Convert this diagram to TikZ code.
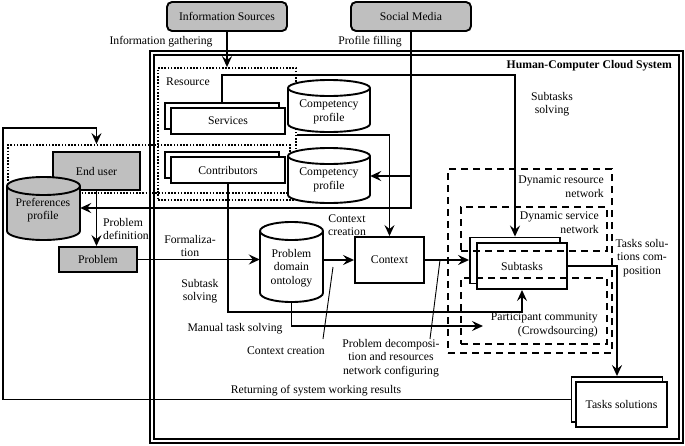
\documentclass[tikz,border=0pt]{standalone}
\usepackage{fontspec}
\setmainfont{Liberation Serif}
\usetikzlibrary{arrows.meta,shadows}
\newcommand\drawcyl[7]{%
  \pgfmathsetmacro\cylrx{(#4-#2)/2}%
  \pgfmathsetmacro\cylcx{(#2+#4)/2}%
  \pgfmathsetmacro\cylcy{(#3+#5)/2}%
  \pgfmathsetmacro\cylw{#4-#2}%
  \pgfmathsetmacro\cylh{#5-#3}%
  \filldraw[cylline, fill=#7] (#2,#3+#6) -- (#2,#5-#6)
     arc[start angle=180,end angle=360,x radius=\cylrx pt,y radius=#6pt]
     -- (#4,#3+#6)
     arc[start angle=0,end angle=180,x radius=\cylrx pt,y radius=#6pt] -- cycle;
  \draw[cylline] (#2,#3+#6) arc[start angle=180,end angle=360,x radius=\cylrx pt,y radius=#6pt];
  \node[minimum width=\cylw pt, minimum height=\cylh pt] (#1) at (\cylcx,\cylcy) {};
}
\begin{document}
\begin{tikzpicture}[x=1pt,y=-1pt,
  every node/.style={font=\fontsize{11.7}{13.5}\selectfont, inner sep=0pt},
  box/.style={draw, line width=1.9pt, fill=white},
  gbox/.style={box, fill=black!25},
  sbox/.style={box, copy shadow={shadow xshift=-6pt, shadow yshift=5pt}},
  cylline/.style={line width=1.9pt},
  conn/.style={line width=1.7pt},
  arr/.style={conn, -{Stealth[length=11pt,width=10pt,inset=4pt]}},
  dotbox/.style={draw, line width=1.8pt, dash pattern=on 1.6pt off 1.6pt},
  dashbox/.style={draw, line width=1.9pt, dash pattern=on 7pt off 5pt},
  thinline/.style={line width=0.9pt},
  lbl/.style={align=center}]
\useasboundingbox (0,0) rectangle (685,445);

% system frame
\draw[line width=1.4pt] (150,51) rectangle (683,443);
\draw[line width=1.4pt] (154,55) rectangle (679,439);
\node[font=\fontsize{11.7}{13.5}\selectfont\bfseries, anchor=east] (hccs) at (672,66) {Human-Computer Cloud System};

% sources
\node[gbox, rounded corners=5pt, minimum width=120pt, minimum height=29pt] (is) at (227,16.5) {Information Sources};
\node[gbox, rounded corners=5pt, minimum width=120pt, minimum height=29pt] (sm) at (411,16.5) {Social Media};
\node (ig) at (161,42) {Information gathering};
\node (pf) at (370,42) {Profile filling};

% dotted groups
\node[dotbox, minimum width=138pt, minimum height=132pt] (res) at (227,134) {};
\node[dotbox, minimum width=282pt, minimum height=48pt] (eub) at (149,169) {};
\node[anchor=west] (reslbl) at (166,82) {Resource};

% resources
\node[sbox, minimum width=114pt, minimum height=26pt] (serv) at (228,121) {Services};
\node[sbox, minimum width=114pt, minimum height=26pt] (contr) at (228,170) {Contributors};
\drawcyl{cp1}{288}{80}{370}{132}{8}{white}
\node[lbl] (cp1t) at (329,112) {Competency\\profile};
\drawcyl{cp2}{288}{148}{370}{203}{8}{white}
\node[lbl] (cp2t) at (329,180) {Competency\\profile};

% end user side
\node[gbox, minimum width=87pt, minimum height=38pt] (eu) at (96.5,171) {End user};
\drawcyl{pref}{7}{177}{80}{240}{9}{black!25}
\node[lbl] (preft) at (43,210) {Preferences\\profile};
\node[gbox, minimum width=78pt, minimum height=25pt] (prob) at (98,259.5) {Problem};

% core
\drawcyl{onto}{260}{222}{323}{302}{9}{white}
\node[lbl] (ontot) at (291.5,268) {Problem\\domain\\ontology};
\node[box, minimum width=69pt, minimum height=46pt] (ctx) at (389.5,260) {Context};
\node[box, copy shadow={shadow xshift=-7pt, shadow yshift=5.5pt}, minimum width=90pt, minimum height=46pt] (st) at (522,266) {Subtasks};
\node[box, copy shadow={shadow xshift=-4.5pt, shadow yshift=5pt}, minimum width=91pt, minimum height=45pt] (ts) at (621.5,404.5) {Tasks solutions};

% connectors
\draw[arr] (is.south) -- (is.south |- res.north);
\coordinate (j1) at (411,208);
\coordinate (j2) at (411,176);
\draw[arr] (sm.south) -- (j1) -- (j1 -| pref.east);
\draw[arr] (j2) -- (j2 -| cp2.east);
\coordinate (servtop) at ([xshift=-6pt,yshift=5pt]serv.north);
\coordinate (sttop) at ([xshift=-7pt,yshift=5.5pt]st.north);
\coordinate (c75) at (515,75);
\draw[arr] (servtop) |- (c75) -- (sttop);
\coordinate (c135) at (389.5,135);
\draw[arr] (c135 -| res.east) -- (c135) -- (ctx.north);
\coordinate (tsw) at ([xshift=-4.5pt,yshift=5pt]ts.west);
\coordinate (L1) at (3,399.5);
\coordinate (L2) at (3,128);
\draw[arr] (tsw) -- (L1) -- (L2) -| (eu.north |- eub.north);
\draw[arr] (eu.south) -- (eu.south |- prob.north);
\draw[arr] (prob.east) -- (prob.east -| onto.west);
\draw[arr] (ctx.west -| onto.east) -- (ctx.west);
\coordinate (stw) at ([xshift=-7pt]st.west);
\draw[arr] (ctx.east) -- (ctx.east -| stw);
\coordinate (c312) at (522,312);
\draw[arr] (contr.south) |- (c312) -- (st.south);
\coordinate (c326) at (483,326);
\draw[arr] (onto.south) |- (c326);
\coordinate (tsn) at ([xshift=-4.5pt,yshift=5pt]ts.north);
\draw[arr] (st.east) -| (tsn);

% dashed networks
\node[dashbox, minimum width=164pt, minimum height=184pt] (drn) at (530,261) {};
\node[dashbox, minimum width=146pt, minimum height=44pt] (dsn) at (534,229) {};
\node[dashbox, minimum width=146pt, minimum height=66pt] (pc) at (534,311) {};
\node[align=right, anchor=north east] (drnt) at (604,176) {Dynamic resource\\network};
\node[align=right, anchor=north east] (dsnt) at (599,212) {Dynamic service\\network};
\node[align=right, anchor=north east] (pct) at (598,313) {Participant community\\(Crowdsourcing)};

% labels
\node[align=left, anchor=west] (pd) at (103,229) {Problem\\definition};
\node[lbl] (form) at (190,246) {Formaliza-\\tion};
\node[lbl] (ss) at (200,291) {Subtask\\solving};
\node (mts) at (235,329) {Manual task solving};
\node (cc2) at (286,351) {Context creation};
\node[lbl] (cc1) at (347,225) {Context\\creation};
\node[lbl] (pdec) at (391,358) {Problem decomposi-\\tion and resources\\network configuring};
\node (ret) at (316,391) {Returning of system working results};
\node[lbl] (sts) at (552,104) {Subtasks\\solving};
\node[lbl] (tsc) at (642,258) {Tasks solu-\\tions com-\\position};
\coordinate (q1) at (333,267);
\coordinate (q2) at (323,339);
\draw[thinline] (q1) -- (q2);
\coordinate (q3) at (440,260);
\coordinate (q4) at (430,339);
\draw[thinline] (q3) -- (q4);
\end{tikzpicture}
\end{document}
